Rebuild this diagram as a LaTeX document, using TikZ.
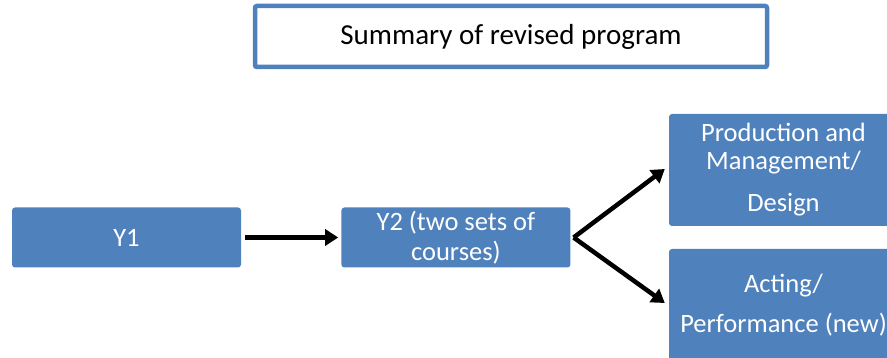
\documentclass[tikz,border=0pt]{standalone}
\usepackage{fontspec}
\setmainfont{Carlito}
\definecolor{BoxBlue}{HTML}{4F81BD}
\usetikzlibrary{arrows.meta,positioning}

\begin{document}
\begin{tikzpicture}[x=1pt,y=-1pt,>={Triangle[length=13pt,width=16pt]},
  blk/.style={fill=BoxBlue,text=white,rounded corners=3pt,minimum width=229pt,
    align=center,inner sep=0pt,font=\fontsize{26.5}{28}\selectfont},
  flow/.style={->,line width=4.5pt}]
  \useasboundingbox (0,0) rectangle (887,358);
  \node[draw=BoxBlue,line width=4.5pt,rounded corners=2pt,minimum width=512pt,
    minimum height=61pt,font=\fontsize{29}{34}\selectfont] (title) at (511,36.5)
    {Summary of revised program};
  \node[blk,minimum height=60pt] (y1) at (126.5,237.5) {Y1};
  \node[blk,minimum height=60pt,right=100pt of y1] (y2) {Y2 (two sets of\\[2pt]courses)};
  \node[blk,minimum height=112pt] (prod) at (783.5,170) {Production and\\Management/\\[14pt]Design};
  \node[blk,minimum height=112pt] (act) at (783.5,305) {Acting/\\[12pt]Performance (new)};
  \draw[flow] ([xshift=4pt]y1.east) -- ([xshift=-3pt]y2.west);
  \draw[flow] ([xshift=3pt]y2.east) -- ([xshift=-4pt,yshift=1pt]prod.west);
  \draw[flow] ([xshift=3pt]y2.east) -- ([xshift=-4pt,yshift=2pt]act.west);
\end{tikzpicture}
\end{document}
